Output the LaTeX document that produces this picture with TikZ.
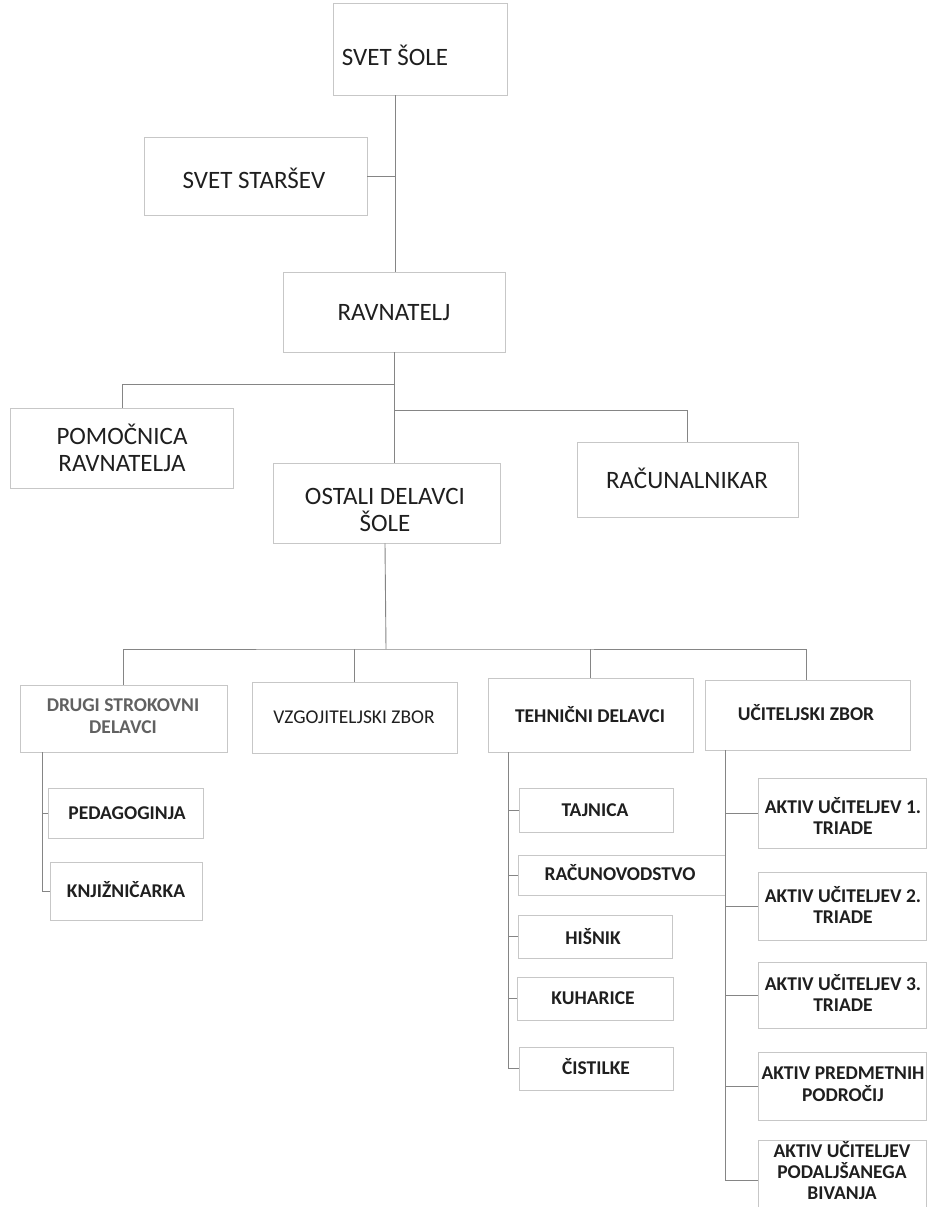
\documentclass[tikz,border=0pt]{standalone}
\usepackage{fontspec}
\setmainfont{Carlito}
\begin{document}
\begin{tikzpicture}[x=1pt,y=-1pt,
  box/.style={draw=black!22, line width=0.8pt, inner sep=0pt},
  big/.style={inner sep=0pt, align=center, text=black!88, font=\fontsize{25}{27}\selectfont},
  small/.style={inner sep=0pt, align=center, text=black!88, font=\fontsize{19.5}{21.5}\selectfont\bfseries},
  conn/.style={draw=black!48, line width=0.9pt}]
\useasboundingbox (0,0) rectangle (926,1207);
\fill[white] (0,0) rectangle (926,1207);
% ---- boxes
\node[box, minimum width=174, minimum height=92] (svet) at (420,49) {};
\node[box, minimum width=223, minimum height=78] (stars) at (255.5,176) {};
\node[box, minimum width=222, minimum height=80] (rav) at (394,312) {};
\node[box, minimum width=223, minimum height=80] (pom) at (121.5,448) {};
\node[box, minimum width=227, minimum height=80] (ost) at (386.5,503) {};
\node[box, minimum width=221, minimum height=75] (rac) at (687.5,479.5) {};
\node[box, minimum width=207, minimum height=67] (drugi) at (123.5,718.5) {};
\node[box, minimum width=205, minimum height=71] (vzg) at (354.5,717.5) {};
\node[box, minimum width=205, minimum height=74] (teh) at (590.5,715) {};
\node[box, minimum width=205, minimum height=70] (uci) at (807.5,715) {};
\node[box, minimum width=155, minimum height=50] (ped) at (125.5,813) {};
\node[box, minimum width=152, minimum height=58] (knj) at (126,891) {};
\node[box, minimum width=154, minimum height=44] (taj) at (596,810) {};
\node[box, minimum width=207, minimum height=40] (racu) at (621.5,875) {};
\node[box, minimum width=154, minimum height=43] (his) at (595,936.5) {};
\node[box, minimum width=156, minimum height=43] (kuh) at (595,998.5) {};
\node[box, minimum width=154, minimum height=43] (cis) at (596,1068.5) {};
\node[box, minimum width=168, minimum height=70] (a1) at (842,813) {};
\node[box, minimum width=168, minimum height=68] (a2) at (842,906) {};
\node[box, minimum width=168, minimum height=66] (a3) at (842,995) {};
\node[box, minimum width=168, minimum height=68] (ap) at (842,1086) {};
\node[box, minimum width=168, minimum height=80] (ab) at (842,1180) {};
% ---- texts
\node[big] (svett) at (395,55) {SVET ŠOLE};
\node[big] (starst) at (254,178) {SVET STARŠEV};
\node[big] (ravt) at (394,313) {RAVNATELJ};
\node[big] (pomt) at (122,448) {POMOČNICA\\RAVNATELJA};
\node[big] (ostt) at (385,510) {OSTALI DELAVCI\\ŠOLE};
\node[big] (ract) at (687,478) {RAČUNALNIKAR};
\node[small, text=black!62] (drugit) at (123,716) {DRUGI STROKOVNI\\DELAVCI};
\node[small, font=\fontsize{19.5}{21.5}\selectfont] (vzgt) at (354,717) {VZGOJITELJSKI ZBOR};
\node[small] (teht) at (590,715) {TEHNIČNI DELAVCI};
\node[small] (ucit) at (806,713) {UČITELJSKI ZBOR};
\node[small] (pedt) at (127,813) {PEDAGOGINJA};
\node[small] (knjt) at (126,890) {KNJIŽNIČARKA};
\node[small] (tajt) at (595,810) {TAJNICA};
\node[small] (racut) at (620,873) {RAČUNOVODSTVO};
\node[small] (hist) at (593,937) {HIŠNIK};
\node[small] (kuht) at (593,998) {KUHARICE};
\node[small] (cist) at (596,1067) {ČISTILKE};
\node[small] (a1t) at (843,816) {AKTIV UČITELJEV 1.\\TRIADE};
\node[small] (a2t) at (843,905) {AKTIV UČITELJEV 2.\\TRIADE};
\node[small] (a3t) at (843,993) {AKTIV UČITELJEV 3.\\TRIADE};
\node[small] (apt) at (843,1084) {AKTIV PREDMETNIH\\PODROČIJ};
\node[small, font=\fontsize{19.5}{21}\selectfont\bfseries] (abt) at (842,1171) {AKTIV UČITELJEV\\PODALJŠANEGA\\BIVANJA};
% ---- connectors
\coordinate (bL) at (395,384);
\coordinate (bR) at (395,410);
\coordinate (bus2) at (386,649);
\coordinate (dl) at (42,0);
\coordinate (tl) at (508,0);
\coordinate (ul) at (725,0);
\draw[conn] (svet.south -| svett) -- (rav.north -| svett);
\draw[conn] (stars.east) -- (stars.east -| svett);
\draw[conn] (rav.south -| ravt) -- (ost.north -| ravt);
\draw[conn] (bL) -| (pom.north -| pomt);
\draw[conn] (bR) -| (rac.north -| ract);
\draw[conn] (ost.south -| ostt) -- (bus2);
\draw[conn] (drugi.north -| drugit) |- (bus2) -| (uci.north -| ucit);
\draw[conn] (vzgt |- bus2) -- (vzg.north -| vzgt);
\draw[conn] (teht |- bus2) -- (teh.north -| teht);
\draw[conn] (drugi.south -| dl) |- (knj.west);
\draw[conn] (dl |- ped.west) -- (ped.west);
\draw[conn] (teh.south -| tl) |- (cis.west);
\foreach \n in {taj,racu,his,kuh} \draw[conn] (tl |- \n.west) -- (\n.west);
\draw[conn] (uci.south -| ul) |- (ab.west);
\foreach \n in {a1,a2,a3,ap} \draw[conn] (ul |- \n.west) -- (\n.west);
\end{tikzpicture}
\end{document}
